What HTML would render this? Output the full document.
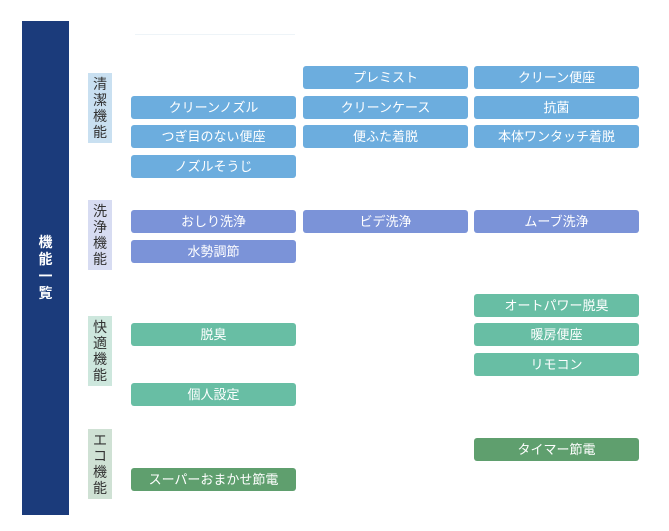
<!DOCTYPE html>
<html><head><meta charset="utf-8"><style>
body{margin:0;width:669px;height:531px;background:#fff;position:relative;overflow:hidden;font-family:"Liberation Sans","Noto Sans CJK JP",sans-serif}
.a{position:absolute}
.side{left:22px;top:21px;width:47px;height:494px;background:#1b3b7b;color:#fff;font-size:14px;font-weight:bold;display:flex;align-items:center;justify-content:center;line-height:17px;text-align:center}
.cat{position:absolute;left:88px;width:24px;height:70px;font-size:14px;line-height:16px;color:#333;text-align:center;display:flex;align-items:center;justify-content:center}
.b{position:absolute;height:23px;width:165px;border-radius:3px;color:#fff;font-size:13px;line-height:23px;text-align:center}
.c1{left:131px}.c2{left:303px}.c3{left:474px}
.k1{background:#6cadde}.k2{background:#7b93d8}.k3{background:#68bea4}.k4{background:#5f9f6e}
</style></head><body>
<div class="a side">機<br>能<br>一<br>覧</div>
<div class="a" style="left:135px;top:34px;width:160px;height:1px;background:#eef4f8"></div>
<div class="cat" style="top:73px;background:#c9e0f1">清<br>潔<br>機<br>能</div>
<div class="cat" style="top:200px;background:#d7dcf2">洗<br>浄<br>機<br>能</div>
<div class="cat" style="top:316px;background:#cde7dd">快<br>適<br>機<br>能</div>
<div class="cat" style="top:429px;background:#cfe1d4">エ<br>コ<br>機<br>能</div>

<div class="b c2 k1" style="top:66px">プレミスト</div>
<div class="b c3 k1" style="top:66px">クリーン便座</div>
<div class="b c1 k1" style="top:96px">クリーンノズル</div>
<div class="b c2 k1" style="top:96px">クリーンケース</div>
<div class="b c3 k1" style="top:96px">抗菌</div>
<div class="b c1 k1" style="top:125px">つぎ目のない便座</div>
<div class="b c2 k1" style="top:125px">便ふた着脱</div>
<div class="b c3 k1" style="top:125px">本体ワンタッチ着脱</div>
<div class="b c1 k1" style="top:155px">ノズルそうじ</div>

<div class="b c1 k2" style="top:210px">おしり洗浄</div>
<div class="b c2 k2" style="top:210px">ビデ洗浄</div>
<div class="b c3 k2" style="top:210px">ムーブ洗浄</div>
<div class="b c1 k2" style="top:240px">水勢調節</div>

<div class="b c3 k3" style="top:294px">オートパワー脱臭</div>
<div class="b c1 k3" style="top:323px">脱臭</div>
<div class="b c3 k3" style="top:323px">暖房便座</div>
<div class="b c3 k3" style="top:353px">リモコン</div>
<div class="b c1 k3" style="top:383px">個人設定</div>

<div class="b c3 k4" style="top:438px">タイマー節電</div>
<div class="b c1 k4" style="top:468px">スーパーおまかせ節電</div>
</body></html>
